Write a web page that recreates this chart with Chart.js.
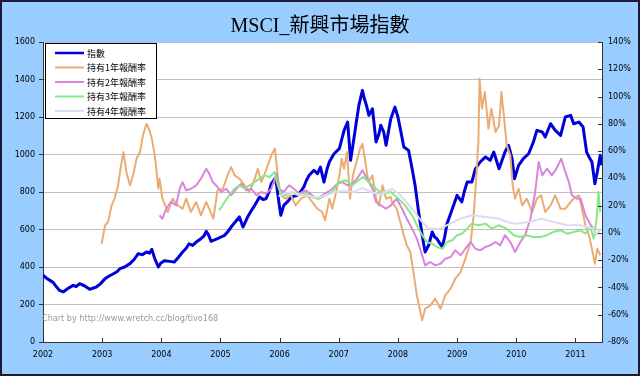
<!DOCTYPE html>
<html>
<head>
<meta charset="utf-8">
<script src="https://cdn.jsdelivr.net/npm/chart.js@4/dist/chart.umd.min.js"></script>
<style>
html,body{margin:0;padding:0;background:#99CCFF;}
#wrap{width:640px;height:376px;}
</style>
</head>
<body>
<div id="wrap"><canvas id="c" width="640" height="376"></canvas></div>
<script>
// ---- DATA ----
const chartTitle = 'MSCI_新興市場指數';
const seriesNames = ['指數', '持有1年報酬率', '持有2年報酬率', '持有3年報酬率', '持有4年報酬率'];
const watermark = 'Chart by http://www.wretch.cc/blog/tivo168';

const idxYears = [2002.00,2002.06,2002.11,2002.17,2002.23,2002.28,2002.34,2002.42,2002.51,2002.56,2002.62,2002.70,2002.79,2002.85,2002.90,2002.97,
2003.05,2003.12,2003.19,2003.25,2003.30,2003.38,2003.47,2003.54,2003.61,2003.68,2003.75,2003.80,2003.84,2003.89,2003.95,2003.99,
2004.05,2004.14,2004.22,2004.29,2004.36,2004.42,2004.47,2004.53,2004.59,2004.67,2004.72,2004.76,2004.80,2004.84,2004.90,2004.95,
2005.01,2005.07,2005.13,2005.18,2005.25,2005.32,2005.38,2005.42,2005.46,2005.52,2005.58,2005.66,2005.72,2005.77,2005.82,2005.86,2005.92,2005.95,2005.99,
2006.02,2006.07,2006.13,2006.20,2006.30,2006.35,2006.41,2006.45,2006.50,2006.58,2006.64,2006.69,2006.75,2006.80,2006.84,2006.92,
2007.01,2007.05,2007.09,2007.15,2007.20,2007.26,2007.30,2007.34,2007.40,2007.43,2007.46,2007.51,2007.57,2007.63,2007.68,2007.71,2007.76,2007.80,2007.85,2007.88,2007.92,2007.95,
2008.00,2008.04,2008.10,2008.18,2008.24,2008.29,2008.35,2008.41,2008.46,2008.52,2008.58,2008.62,2008.66,2008.70,2008.75,2008.79,2008.83,2008.92,
2009.00,2009.08,2009.12,2009.17,2009.25,2009.31,2009.39,2009.48,2009.56,2009.62,2009.71,2009.75,2009.81,2009.87,2009.93,2009.97,
2010.04,2010.12,2010.21,2010.29,2010.35,2010.44,2010.49,2010.58,2010.66,2010.75,2010.83,2010.92,2010.97,
2011.06,2011.13,2011.19,2011.23,2011.28,2011.33,2011.37,2011.42,2011.44];
const idxValues = [356,340,330,318,293,275,267,285,302,296,311,300,281,288,293,310,
338,352,364,375,391,400,418,440,471,466,480,474,494,444,400,420,
433,430,427,452,480,500,524,515,533,551,565,590,570,537,545,551,
560,569,590,613,640,667,613,640,667,700,729,773,760,764,800,844,871,836,740,
676,729,747,773,782,800,827,860,889,916,898,933,853,920,960,1004,
1031,1080,1129,1173,969,1093,1180,1262,1342,1300,1271,1209,1244,1067,1110,1156,1120,1049,1140,1191,1227,1253,
1200,1138,1040,1022,924,836,693,569,480,516,587,560,551,530,507,560,631,711,
782,747,800,853,853,924,960,987,969,1013,924,960,1013,1049,978,871,
942,978,1004,1067,1129,1120,1093,1164,1129,1102,1200,1209,1164,
1173,1147,1013,987,960,844,907,996,942];

const r1Years = [2002.99,2003.05,2003.10,2003.16,2003.21,2003.27,2003.31,2003.36,2003.41,2003.47,2003.53,2003.58,2003.64,2003.69,2003.75,2003.80,2003.84,2003.89,2003.95,
2003.97,2004.02,2004.11,2004.19,2004.28,2004.36,2004.42,2004.50,2004.59,2004.67,2004.76,2004.81,2004.88,2004.95,
2005.04,2005.12,2005.18,2005.24,2005.32,2005.41,2005.49,2005.58,2005.63,2005.69,2005.77,2005.86,2005.92,2005.98,
2006.02,2006.10,2006.19,2006.27,2006.36,2006.47,2006.55,2006.64,2006.72,2006.77,2006.84,2006.89,2006.95,
2007.01,2007.05,2007.09,2007.14,2007.19,2007.24,2007.30,2007.36,2007.40,2007.45,2007.50,2007.57,2007.63,2007.68,2007.74,2007.80,2007.88,2007.90,2007.98,
2008.04,2008.10,2008.15,2008.21,2008.27,2008.32,2008.38,2008.41,2008.46,2008.55,2008.63,2008.72,2008.80,2008.89,2008.97,
2009.06,2009.14,2009.23,2009.28,2009.32,2009.36,2009.38,2009.42,2009.47,2009.53,2009.58,2009.65,2009.71,2009.75,2009.79,2009.84,2009.90,2009.94,2009.98,
2010.04,2010.10,2010.18,2010.27,2010.35,2010.42,2010.49,2010.58,2010.66,2010.75,2010.83,2010.92,2010.97,
2011.06,2011.11,2011.17,2011.23,2011.28,2011.33,2011.37,2011.42];
const r1Values = [-8,5.6,8,20.2,25.1,34.9,47.1,59.3,44.7,34.9,43.4,54.4,59.3,71.6,80.1,75.2,69.1,56.9,32.4,
39.8,25.1,15.3,25.1,20.2,17.7,25.1,15.3,22.7,12.9,22.7,17.7,10.4,31.2,
32.4,42.2,48.3,42.2,39.8,34.9,30,39.8,47.1,37.3,45.9,56.9,61.8,37.3,
27.6,25.1,27.6,20.2,25.1,27.6,22.7,17.7,15.3,9.2,25.1,17.7,28.8,
42.2,54.4,47.1,59.3,25.1,42.2,52,61.8,65.4,52,37.3,42.2,25.1,20.2,34.9,25.1,26.3,22.7,17.7,
8,-1.7,-9.1,-14,-31.1,-45.8,-58,-64.1,-55.6,-53.1,-48.2,-55.6,-45.8,-40.9,-33.6,
-28.7,-18.9,-6.7,12.9,37.3,66.7,113.1,91.1,103.3,76.4,91.1,74,78.9,103.3,86.2,64.2,56.9,34.9,25.1,
32.4,20.2,25.1,15.3,25.1,27.6,15.3,20.2,27.6,17.7,17.7,22.7,25.1,
27.6,17.7,5.6,-1.7,-11.6,-22.6,-11.6,-16.4];

const r2Years = [2003.97,2004.02,2004.08,2004.16,2004.25,2004.31,2004.36,2004.42,2004.50,2004.59,2004.67,2004.76,2004.81,2004.87,2004.95,
2005.01,2005.10,2005.18,2005.27,2005.35,2005.44,2005.52,2005.61,2005.69,2005.77,2005.86,2005.92,2005.95,2005.99,
2006.07,2006.16,2006.24,2006.33,2006.44,2006.55,2006.64,2006.72,2006.81,2006.89,2006.98,
2007.06,2007.15,2007.23,2007.31,2007.40,2007.48,2007.57,2007.63,2007.71,2007.80,2007.88,2007.98,
2008.07,2008.15,2008.24,2008.32,2008.41,2008.46,2008.55,2008.63,2008.72,2008.80,2008.89,2008.97,
2009.06,2009.14,2009.23,2009.31,2009.39,2009.48,2009.56,2009.65,2009.73,2009.81,2009.90,2009.98,
2010.07,2010.15,2010.24,2010.32,2010.38,2010.44,2010.52,2010.60,2010.68,2010.76,2010.83,2010.89,2010.94,
2011.03,2011.09,2011.17,2011.23,2011.30,2011.36,2011.42];
const r2Values = [12.9,10.4,17.7,22.7,20.2,32.4,37.3,31.2,32.4,34.9,39.8,47.1,43.4,37.3,33.7,
30,32.4,27.6,32.4,36.1,31.2,32.4,27.6,30,28.8,32.4,39.8,43.4,32.4,
30,34.9,32.4,28.8,31.2,27.6,25.1,27.6,30,32.4,36.1,
37.3,34.9,36.1,39.8,45.9,39.8,32.4,22.7,20.2,17.7,20.2,25.1,
17.7,10.4,3.1,-4.2,-16.4,-23.8,-21.3,-23.8,-22.6,-18.9,-17.7,-12.8,
-16.4,-11.6,-6.7,-11.6,-12.8,-10.3,-9.1,-6.7,-9.1,-1.7,-6.7,-14,
-6.7,-1.7,10.4,30,52,42.2,47.1,42.2,47.1,54.4,44.7,37.3,27.6,
25.1,25.1,12.9,8,3.1,-1.7,3.1];

const r3Years = [2004.98,2005.07,2005.15,2005.24,2005.32,2005.41,2005.49,2005.58,2005.66,2005.75,2005.83,2005.92,2005.95,
2006.02,2006.10,2006.20,2006.31,2006.44,2006.55,2006.67,2006.78,2006.89,
2007.01,2007.12,2007.23,2007.34,2007.41,2007.51,2007.63,2007.74,2007.88,
2008.01,2008.12,2008.24,2008.32,2008.41,2008.49,2008.58,2008.66,2008.75,2008.83,2008.92,
2009.00,2009.08,2009.17,2009.25,2009.36,2009.48,2009.59,2009.70,2009.84,2009.96,
2010.07,2010.18,2010.29,2010.41,2010.52,2010.63,2010.75,2010.86,2010.97,
2011.09,2011.17,2011.25,2011.31,2011.36,2011.39,2011.42];
const r3Values = [16.6,22.7,27.6,32.4,34.9,32.4,34.9,37.3,39.8,42.2,41,44.7,37.3,
28.8,27.6,30,27.6,28.8,26.3,25.1,27.6,30,
37.3,38.6,34.9,38.6,41,37.3,32.4,28.8,30,
25.1,20.2,12.9,5.6,-1.7,-6.7,-7.9,-10.3,-11.6,-6.7,-5.4,
-1.7,-0.6,3.1,6.8,5.6,6.8,3.1,5.6,3.1,-1.7,
-3,-1.7,-3,-3,-1.7,0.7,1.9,-0.6,0.7,
1.9,-0.6,4.3,-4.2,10.4,30,15.3];

const r4Years = [2005.98,2006.10,2006.20,2006.35,2006.50,2006.65,2006.80,2006.95,2007.10,2007.25,2007.40,2007.55,2007.70,2007.90,
2008.04,2008.24,2008.41,2008.52,2008.72,2008.88,2009.05,2009.25,2009.48,2009.71,2009.85,2009.98,
2010.20,2010.42,2010.64,2010.86,2011.08,2011.30,2011.36,2011.42];
const r4Values = [27,29,30,28,27,26,28,30,31,30,33,30,28,32.4,
27.6,17.7,8,3.1,3.1,6.8,10.4,12.9,11.7,10.4,8,6.8,
8,10.4,8,5.6,5.6,3.1,-1.7,3.1];

const seriesColors = ['#0000D8', '#EBAC74', '#DB84DB', '#86E886', '#DCDCF0'];

// ---- BUILD ----
function pts(xs, ys){ return xs.map((x,i)=>({x:x, y:ys[i]})); }

const datasets = [
  {label: seriesNames[0], data: pts(idxYears, idxValues), yAxisID: 'y', borderColor: seriesColors[0], borderWidth: 3, order: 5},
  {label: seriesNames[1], data: pts(r1Years, r1Values), yAxisID: 'y1', borderColor: seriesColors[1], borderWidth: 2, order: 4},
  {label: seriesNames[2], data: pts(r2Years, r2Values), yAxisID: 'y1', borderColor: seriesColors[2], borderWidth: 2, order: 3},
  {label: seriesNames[3], data: pts(r3Years, r3Values), yAxisID: 'y1', borderColor: seriesColors[3], borderWidth: 2, order: 2},
  {label: seriesNames[4], data: pts(r4Years, r4Values), yAxisID: 'y1', borderColor: seriesColors[4], borderWidth: 2, order: 1}
].map(d => Object.assign(d, {pointRadius: 0, tension: 0, fill: false, borderJoinStyle: 'round'}));

const bgPlugin = {
  id: 'bg',
  beforeDraw(chart){
    const ctx = chart.ctx, a = chart.chartArea;
    ctx.save();
    ctx.fillStyle = '#99CCFF';
    ctx.fillRect(0, 0, chart.width, chart.height);
    ctx.fillStyle = '#FFFFFF';
    ctx.fillRect(a.left, a.top, a.right - a.left, a.bottom - a.top);
    ctx.strokeStyle = '#1A1A33';
    ctx.lineWidth = 2;
    ctx.strokeRect(1, 1, chart.width - 2, chart.height - 2);
    ctx.restore();
  }
};

const overlayPlugin = {
  id: 'overlay',
  afterDatasetsDraw(chart){
    const ctx = chart.ctx, a = chart.chartArea;
    ctx.save();
    // watermark
    ctx.fillStyle = '#9A9A9A';
    ctx.font = '9px "DejaVu Sans Condensed", "DejaVu Sans"';
    ctx.textBaseline = 'middle';
    ctx.textAlign = 'left';
    ctx.fillText(watermark, a.left - 1, 319);
    // inward tick marks on x axis and right axis
    ctx.strokeStyle = '#333333';
    ctx.lineWidth = 1;
    const xs = chart.scales.x, yr = chart.scales.y1;
    xs.ticks.forEach(t => {
      const px = Math.round(xs.getPixelForValue(t.value)) + 0.5;
      ctx.beginPath(); ctx.moveTo(px, a.bottom); ctx.lineTo(px, a.bottom - 4); ctx.stroke();
    });
    yr.ticks.forEach(t => {
      const py = Math.round(yr.getPixelForValue(t.value)) + 0.5;
      ctx.beginPath(); ctx.moveTo(a.right, py); ctx.lineTo(a.right - 4, py); ctx.stroke();
    });
    // legend box
    const bx = a.left + 2, by = a.top + 1, bw = 111, bh = 75;
    ctx.fillStyle = '#FFFFFF';
    ctx.fillRect(bx, by, bw, bh);
    ctx.strokeStyle = '#000000';
    ctx.lineWidth = 1;
    ctx.strokeRect(bx + 0.5, by + 0.5, bw, bh);
    chart.data.datasets.forEach((ds, i) => {
      const y = by + 10 + i * 14.5;
      ctx.strokeStyle = ds.borderColor;
      ctx.lineWidth = i === 0 ? 2.5 : 2;
      ctx.beginPath();
      ctx.moveTo(bx + 10, y);
      ctx.lineTo(bx + 39, y);
      ctx.stroke();
      ctx.fillStyle = '#000000';
      ctx.font = '9px "Noto Sans CJK TC"';
      ctx.fillText(ds.label, bx + 42, y + 0.5);
    });
    ctx.restore();
  }
};

new Chart(document.getElementById('c'), {
  type: 'line',
  data: {datasets: datasets},
  plugins: [bgPlugin, overlayPlugin],
  options: {
    responsive: false,
    animation: false,
    devicePixelRatio: 1,
    layout: {padding: {left: 0, right: 0, top: 0, bottom: 0}},
    plugins: {
      legend: {display: false},
      tooltip: {enabled: false},
      title: {
        display: true,
        text: chartTitle,
        color: '#000000',
        font: {family: '"Liberation Serif", "Noto Sans CJK TC", serif', size: 20, weight: 'normal', lineHeight: 1.2},
        padding: {top: 15, bottom: 3}
      }
    },
    scales: {
      x: {
        type: 'linear',
        position: 'bottom',
        min: 2002,
        max: 2011.45,
        afterFit(s){ s.height = 34; },
        grid: {drawOnChartArea: false, drawTicks: false},
        border: {display: true, color: '#333333', width: 1},
        ticks: {
          stepSize: 1, includeBounds: false, autoSkip: false, maxRotation: 0, padding: 8,
          color: '#000000', font: {family: '"DejaVu Sans"', size: 8},
          callback: v => Number.isInteger(v) ? String(v) : ''
        }
      },
      y: {
        position: 'left',
        min: 0, max: 1600,
        afterFit(s){ s.width = 43; },
        grid: {color: '#C0C0C0', lineWidth: 1, tickLength: 4, tickColor: '#333333'},
        border: {display: true, color: '#333333', width: 1},
        ticks: {stepSize: 200, padding: 4, color: '#000000', font: {family: '"DejaVu Sans"', size: 8},
          callback: v => String(v)}
      },
      y1: {
        position: 'right',
        min: -80, max: 140,
        afterFit(s){ s.width = 38; },
        grid: {drawOnChartArea: false, drawTicks: false},
        border: {display: true, color: '#333333', width: 1},
        ticks: {stepSize: 20, padding: 6, color: '#000000', font: {family: '"DejaVu Sans"', size: 8},
          callback: v => v + '%'}
      }
    }
  }
});
</script>
</body>
</html>
